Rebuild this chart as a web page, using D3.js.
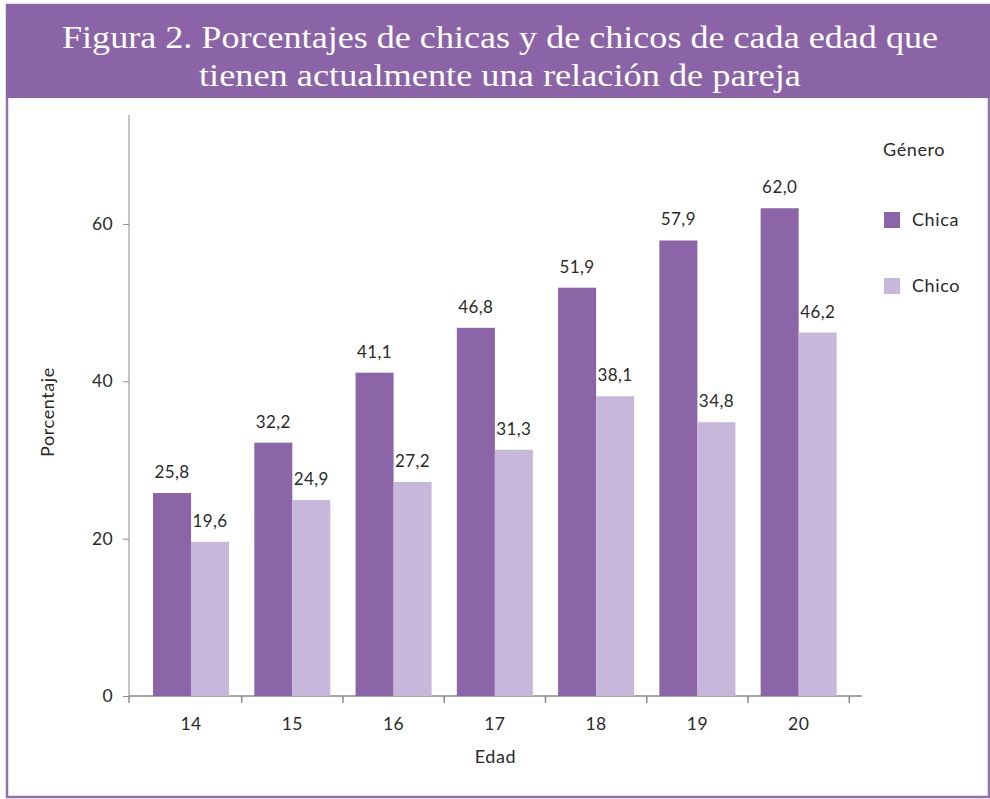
<!DOCTYPE html>
<html><head><meta charset="utf-8">
<script src="https://cdn.jsdelivr.net/npm/d3@7"></script>
<style>body{margin:0;background:#fff}svg{display:block}</style>
</head><body>
<svg id="c" width="990" height="799"></svg>
<script>
const categories = ["14","15","16","17","18","19","20"];
const seriesNames = ["Chica","Chico"];
const chica = [25.8,32.2,41.1,46.8,51.9,57.9,62.0];
const chico = [19.6,24.9,27.2,31.3,38.1,34.8,46.2];
const yTicks = [0,20,40,60];
const titleLines = ["Figura 2. Porcentajes de chicas y de chicos de cada edad que","tienen actualmente una relación de pareja"];

const colors = {Chica:"#8c64a8", Chico:"#c7b7db"};
const svg = d3.select("#c");
const font = "Lato, 'Open Sans', sans-serif";
const txt = "#2a2a2a";

// frame
svg.append("rect").attr("x",7).attr("y",5).attr("width",982).attr("height",792)
  .attr("fill","none").attr("stroke","#9270ae").attr("stroke-width",2.5);
svg.append("rect").attr("x",6).attr("y",4).attr("width",984).attr("height",94).attr("fill","#8b64a8");
const tl = [{t:titleLines[0],y:48,w:876},{t:titleLines[1],y:86,w:602}];
svg.selectAll("text.title").data(tl).join("text").attr("class","title")
  .attr("x",500).attr("y",d=>d.y).attr("text-anchor","middle")
  .attr("textLength",d=>d.w).attr("lengthAdjust","spacingAndGlyphs")
  .attr("fill","#fff").attr("font-family","'Liberation Serif', 'DejaVu Serif', serif").attr("font-size",31)
  .text(d=>d.t);

// scales
const x = d3.scaleBand().domain(categories).range([140.4,849.3]).padding(0);
const xs = d3.scaleBand().domain(seriesNames).range([0,x.bandwidth()]).paddingInner(0).paddingOuter(0.332);
const y = d3.scaleLinear().domain([0,73.85]).range([696,115]);

const axisColor = "#8a8a8a";
// y axis
const yAxis = svg.append("g").attr("transform","translate(129,0)")
  .call(d3.axisLeft(y).tickValues(yTicks).tickSize(6).tickPadding(10).tickFormat(d3.format("d")));
yAxis.select(".domain").attr("stroke",axisColor).attr("d",`M0,${y(73.85)}V${y(0)}`);
yAxis.selectAll(".tick line").attr("stroke",axisColor);
yAxis.selectAll(".tick text").attr("font-family",font).attr("font-size",17.5).attr("letter-spacing",0.4).attr("fill",txt);

// x axis
const g = svg.append("g");
g.append("line").attr("x1",129).attr("x2",862).attr("y1",y(0)).attr("y2",y(0)).attr("stroke",axisColor).attr("stroke-width",1.5);
const tickPos = [129].concat(categories.slice(1).map(c=>x(c)), [x(categories[categories.length-1])+x.step()]);
g.selectAll("line.xt").data(tickPos).join("line").attr("class","xt")
  .attr("x1",d=>d).attr("x2",d=>d).attr("y1",y(0)).attr("y2",y(0)+7).attr("stroke",axisColor).attr("stroke-width",1.5);
g.selectAll("text.xl").data(categories).join("text").attr("class","xl")
  .attr("x",d=>x(d)+x.bandwidth()/2).attr("y",730).attr("text-anchor","middle")
  .attr("font-family",font).attr("font-size",17.5).attr("letter-spacing",0.4).attr("fill",txt).text(d=>d);

// bars
const rows = categories.map((c,i)=>({c, vals:[{s:"Chica",v:chica[i]},{s:"Chico",v:chico[i]}]}));
const grp = svg.selectAll("g.grp").data(rows).join("g").attr("class","grp")
  .attr("transform",d=>`translate(${x(d.c)},0)`);
grp.selectAll("rect").data(d=>d.vals).join("rect")
  .attr("x",d=>xs(d.s)).attr("width",xs.bandwidth())
  .attr("y",d=>y(d.v)).attr("height",d=>y(0)-y(d.v)).attr("fill",d=>colors[d.s]);
const fmt = v => v.toFixed(1).replace(".",",");
grp.selectAll("text").data(d=>d.vals).join("text")
  .attr("x",d=>xs(d.s)+xs.bandwidth()/2).attr("y",d=>y(d.v)-15).attr("text-anchor","middle")
  .attr("font-family",font).attr("font-size",17).attr("letter-spacing",0.4).attr("fill",txt).text(d=>fmt(d.v));

// axis titles
svg.append("text").attr("x",495.5).attr("y",763).attr("text-anchor","middle")
  .attr("font-family",font).attr("font-size",18).attr("letter-spacing",0.6).attr("fill",txt).text("Edad");
svg.append("text").attr("transform","translate(54,412) rotate(-90)").attr("text-anchor","middle")
  .attr("font-family",font).attr("font-size",18).attr("letter-spacing",0.6).attr("fill",txt).text("Porcentaje");

// legend
svg.append("text").attr("x",883).attr("y",156).attr("font-family",font).attr("font-size",18).attr("letter-spacing",0.6).attr("fill",txt).text("Género");
const lg = svg.selectAll("g.lg").data(seriesNames).join("g").attr("class","lg")
  .attr("transform",(d,i)=>`translate(884,${212+i*66})`);
lg.append("rect").attr("width",16).attr("height",16).attr("fill",d=>colors[d]);
lg.append("text").attr("x",28).attr("y",13.5).attr("font-family",font).attr("font-size",18).attr("letter-spacing",0.6).attr("fill",txt).text(d=>d);
</script>
</body></html>
